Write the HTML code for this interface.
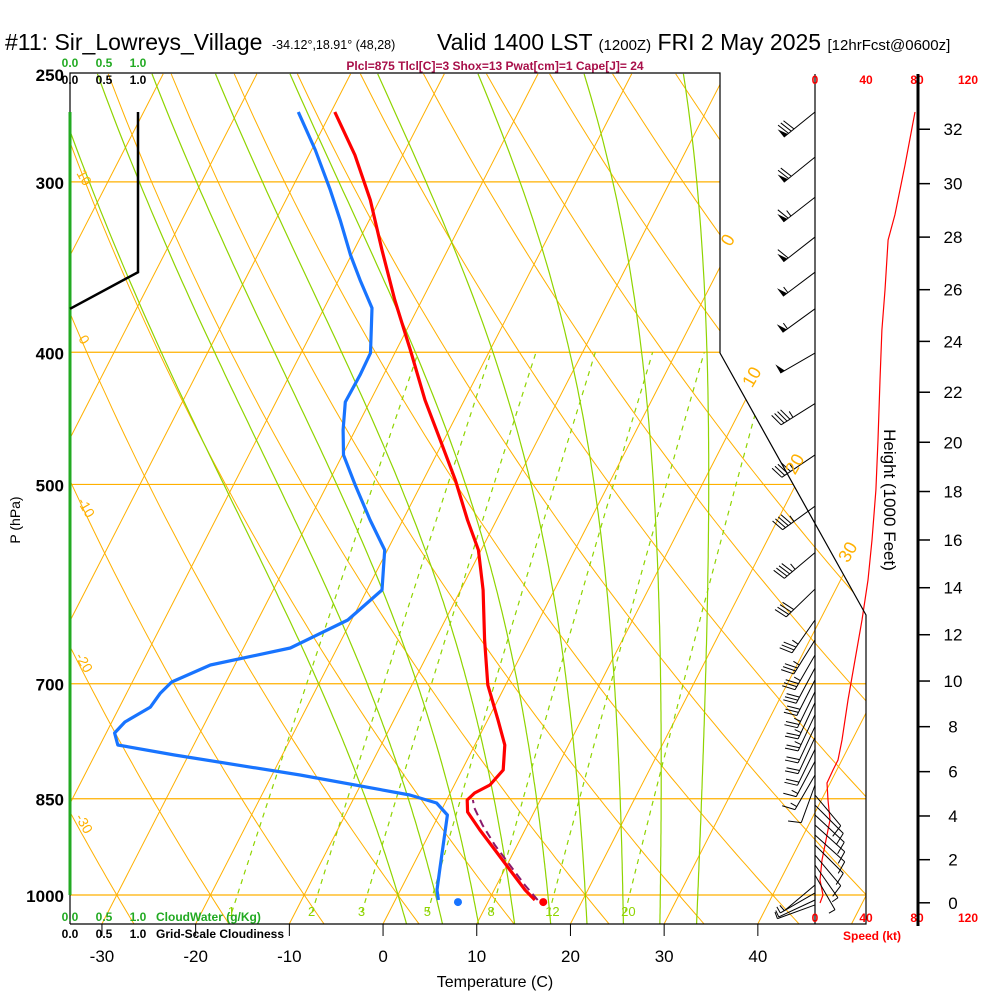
<!DOCTYPE html>
<html><head><meta charset="utf-8">
<style>
html,body{margin:0;padding:0;background:#fff;width:1000px;height:1000px;overflow:hidden}
svg{display:block;font-family:"Liberation Sans",sans-serif}
</style></head>
<body>
<svg id="chart" width="1000" height="1000" viewBox="0 0 1000 1000" xmlns="http://www.w3.org/2000/svg">
<defs>
<clipPath id="plotclip"><polygon points="70,73 720,73 720,353 866,615 866,924 70,924"/></clipPath>
</defs>
<g>
<text x="5" y="50" font-size="23">#11: Sir_Lowreys_Village</text>
<text x="272" y="49" font-size="12.5">-34.12°,18.91° (48,28)</text>
<text x="437" y="50" font-size="23">Valid 1400 LST <tspan font-size="15">(1200Z)</tspan> FRI 2 May 2025 <tspan font-size="15">[12hrFcst@0600z]</tspan></text>
<text x="495" y="70" font-size="12" font-weight="bold" fill="#a8104a" text-anchor="middle">Plcl=875 Tlcl[C]=3 Shox=13 Pwat[cm]=1 Cape[J]= 24</text>
</g>
<g id="grid" clip-path="url(#plotclip)"></g>
<g id="marks"></g>
<g id="axes"></g>
</svg>
<script>
// ---- data ----
const tempP = [266.6,286.7,309.3,336.6,366.2,398.5,433.6,463.8,496.2,530.9,558.5,597.5,650.2,701.4,744.1,776.3,809.8,830.5,841.8,851.8,869.2,896.1,926.8,958.7,991.6,1008.5];
const tempT = [-49.6,-45.1,-41.0,-37.0,-32.9,-28.5,-24.2,-20.4,-16.6,-13.1,-10.3,-7.6,-4.7,-1.9,1.1,3.2,4.4,3.8,2.6,2.2,2.9,5.2,7.9,10.6,13.3,14.9];
const dewP = [266.6,284.3,304.2,320.0,339.4,354.1,371.2,400.5,415.6,435.0,456.1,475.7,500.5,530.9,558.5,597.5,628.6,659.0,678.2,698.0,711.1,728.1,746.7,760.7,776.3,789.5,816.6,844.7,856.2,873.6,926.8,958.7,991.6,1008.5];
const dewT = [-53.5,-49.6,-45.8,-43.1,-40.1,-37.7,-34.9,-32.6,-32.5,-32.6,-31.3,-29.9,-27.0,-23.5,-20.3,-18.4,-20.4,-25.0,-32.6,-35.8,-36.4,-36.7,-38.6,-39.1,-38.1,-31.5,-17.0,-4.2,-0.9,0.9,2.3,3.1,3.9,4.6];
const parcelP = [1008.5,983.3,950.6,919.0,888.5,863.4,851.8];
const parcelT = [14.7,12.5,9.8,7.1,4.7,2.9,2.3];
const sfcP = 1012; const sfcT = 15.9; const sfcTd = 6.8;
const speedP = [266.6,291.6,317.2,330.9,360.1,385.2,419.2,463.8,504.7,549.2,587.5,628.6,672.5,719.5,769.7,796.2,809.8,827.7,851.8,881.1,911.3,942.6,975.0,1000,1013.6];
const speedV = [78.4,70.6,62.7,57.3,54.9,52.5,51.0,49.4,47.8,44.7,41.6,36.9,31.4,25.9,21.2,18.0,14.1,9.4,10.2,11.8,8.6,5.5,3.9,6.3,3.9];
const barbP = [266.6,287.7,307.9,329.3,349.4,371.7,400.5,436.2,475.7,518.7,561.0,596.6,628.6,650.2,666.9,681.6,695.4,709.5,722.7,737.5,752.5,766.4,782.0,798.0,816.6,830.5,844.7,859.2,873.6,888.5,903.6,919.0,934.8,950.6,966.9,983.3,996.6,1008.5,1016.9];
const barbDir = [231,231,232,232,233,234,240,238,236,234,230,226,215,212,210,208,207,206,205,205,205,205,206,208,210,200,140,135,133,132,132,135,140,145,150,230,240,245,250];
const barbSpd = [78,72,65,58,56,54,52,47,46,45,44,41,37,35,33,31,29,27,26,24,22,21,19,17,14,10,10,11,12,12,11,10,8,6,5,4,5,6,5];
const cloudP = [266.6,349.4,371.7];
const cloudV = [1.0,1.0,0.0];
const pressLabels = [250,300,400,500,700,850,1000];
const isobars = [300,400,500,700,850,1000];
const tempTicks = [-30,-20,-10,0,10,20,30,40];
const heightTicks = [0,2,4,6,8,10,12,14,16,18,20,22,24,26,28,30,32];
const mixRatios = [1,2,3,5,8,12,20];
const moistStarts = [0,4,8,12,16,20,24,28,32];
const speedTicks = [0,40,80,120];

// ---- axis functions ----
const Y = p => 895 - 592.3*Math.log(1000/p);
const X = (T,p) => 383 + 9.37*T + 0.513*(924 - Y(p));
const SX = s => 815 + s*1.275;
const CX = v => 70 + v*68;
const HY = h => Y(1013.25*Math.pow(1-6.8756e-6*h*1000,5.2559));
const NS='http://www.w3.org/2000/svg';
function mk(parent,tag,attrs,text){const e=document.createElementNS(NS,tag);for(const k in attrs)e.setAttribute(k,attrs[k]);if(text!==undefined)e.textContent=text;parent.appendChild(e);return e;}
const grid=document.getElementById('grid'), marks=document.getElementById('marks'), axes=document.getElementById('axes');
function pathFrom(pts){return 'M'+pts.map(q=>q[0].toFixed(1)+','+q[1].toFixed(1)).join('L');}

isobars.forEach(p=>{const l=mk(grid,'line',{x1:70,x2:870,y1:Y(p),y2:Y(p),stroke:'#ffb000','stroke-width':1.2});

});
for(let T=-120;T<=50;T+=10){const l=mk(grid,'line',{x1:X(T,1050),y1:Y(1050),x2:X(T,250),y2:Y(250),stroke:'#ffb000','stroke-width':1});

}
for(let th=-40;th<=170;th+=10){const pts=[];for(let p=1050;p>=245;p-=10){const T=(th+273.15)*Math.pow(p/1000,0.2857)-273.15;pts.push([X(T,p),Y(p)]);}
const e=mk(grid,'path',{d:pathFrom(pts),fill:'none',stroke:'#ffb000','stroke-width':1});

}
function es(Tc){return 6.112*Math.exp(17.67*Tc/(Tc+243.5));}
function grad(T,p){const e=es(T-273.15);const rs=0.622*e/(p-e);const Lv=2.5e6;return (287*T+Lv*rs)/(p*(1005+Lv*Lv*rs*0.622/(287*T*T)));}
function moist(T0){const out=[];let T=T0+273.15;
 let Td=T;for(let p=1000;p<1050;p+=5){Td+=5*grad(Td,p);}
 let Tc=Td;for(let p=1050;p>=250;p-=5){out.push([X(Tc-273.15,p),Y(p)]);Tc-=5*grad(Tc,p);}
 return out;}
moistStarts.forEach(t=>{const e=mk(grid,'path',{d:pathFrom(moist(t)),fill:'none',stroke:'#8fd400','stroke-width':1.2});

});
mixRatios.forEach(w=>{const pts=[];for(let p=1030;p>=400;p-=10){const e=w*p/(622+w);const l=Math.log(e/6.112);const Td=243.5*l/(17.67-l);pts.push([X(Td,p),Y(p)]);}
const e=mk(grid,'path',{d:pathFrom(pts),fill:'none',stroke:'#8fd400','stroke-width':1.2,'stroke-dasharray':'5,5'});


const p0=1030,ee=w*p0/(622+w),ll=Math.log(ee/6.112),tt=243.5*ll/(17.67-ll);
const t=mk(grid,'text',{x:X(tt,p0)-4,y:916,'font-size':13,fill:'#8fd400'},String(w));

});

[[0,733,243],[10,757,380],[20,800,467],[30,853,555]].forEach(a=>{const t=mk(axes,'text',{x:a[1],y:a[2],'font-size':18,fill:'#ffb000','text-anchor':'middle',transform:`rotate(-60 ${a[1]} ${a[2]})`},String(a[0]));

});
[[10,80,180],[0,80,342],[-10,82,510],[-20,80,665],[-30,80,826]].forEach(a=>{const t=mk(axes,'text',{x:a[1],y:a[2],'font-size':14,fill:'#ffb000','text-anchor':'middle',transform:`rotate(60 ${a[1]} ${a[2]})`},String(a[0]));

});

const b=mk(axes,'polyline',{points:'70,924 70,73 720,73 720,353 866,615 866,924 70,924',fill:'none',stroke:'#000','stroke-width':1.2});



const cw=mk(axes,'line',{x1:CX(0),x2:CX(0),y1:Y(266.6),y2:Y(1000),stroke:'#22aa22','stroke-width':3});


const cl=mk(axes,'path',{d:pathFrom(cloudP.map((p,i)=>[CX(cloudV[i]),Y(p)])),fill:'none',stroke:'#000','stroke-width':2.5});



const tp=mk(marks,'path',{d:pathFrom(tempP.map((p,i)=>[X(tempT[i],p),Y(p)])),fill:'none',stroke:'#ff0000','stroke-width':3.2,'stroke-linejoin':'round'});


const dp=mk(marks,'path',{d:pathFrom(dewP.map((p,i)=>[X(dewT[i],p),Y(p)])),fill:'none',stroke:'#1874ff','stroke-width':3.2,'stroke-linejoin':'round'});


const pp=mk(marks,'path',{d:pathFrom(parcelP.map((p,i)=>[X(parcelT[i]+0.5,p),Y(p)])),fill:'none',stroke:'#8b1a6b','stroke-width':2,'stroke-dasharray':'8,5'});


const st=mk(marks,'circle',{cx:X(sfcT,sfcP),cy:Y(sfcP),r:4,fill:'#ff0000'});


const sd=mk(marks,'circle',{cx:X(sfcTd,sfcP),cy:Y(sfcP),r:4,fill:'#1874ff'});



const wl=mk(axes,'line',{x1:815,x2:815,y1:74,y2:924,stroke:'#000','stroke-width':1.2});


const sp=mk(marks,'path',{d:pathFrom(speedP.map((p,i)=>[SX(speedV[i]),Y(p)])),fill:'none',stroke:'#ff0000','stroke-width':1.2});


barbP.forEach((p,i)=>{const g=mk(marks,'g',{});


const a=barbDir[i]*Math.PI/180,L=40,x0=815,y0=Y(p);const ux=Math.sin(a),uy=-Math.cos(a);
const x1=x0+L*ux,y1=y0+L*uy;mk(g,'line',{x1:x0,y1:y0,x2:x1,y2:y1,stroke:'#000','stroke-width':1});
const px=-uy,py=ux;let s=Math.round(barbSpd[i]/5)*5,d=0;
while(s>=50){const bx=x1-ux*d,by=y1-uy*d;mk(g,'polygon',{points:`${bx},${by} ${bx+px*10},${by+py*10} ${bx-ux*5},${by-uy*5}`,fill:'#000'});d+=6;s-=50;}
while(s>=10){const bx=x1-ux*d,by=y1-uy*d;mk(g,'line',{x1:bx,y1:by,x2:bx+px*13+ux*3,y2:by+py*13+uy*3,stroke:'#000','stroke-width':1});d+=3.5;s-=10;}
if(s>=5){const bx=x1-ux*d,by=y1-uy*d;mk(g,'line',{x1:bx,y1:by,x2:bx+px*7,y2:by+py*7,stroke:'#000','stroke-width':1});}
});
speedTicks.forEach(s=>{[84,922].forEach(yy=>{const t=mk(axes,'text',{x:SX(s),y:yy,'font-size':12,'font-weight':'bold',fill:'#ff0000','text-anchor':'middle'},String(s));

});});
const skl=mk(axes,'text',{x:872,y:940,'font-size':12,'font-weight':'bold',fill:'#ff0000','text-anchor':'middle'},'Speed (kt)');



const ha=mk(axes,'line',{x1:918,x2:918,y1:74,y2:926,stroke:'#000','stroke-width':3});


heightTicks.forEach(h=>{const y=HY(h);mk(axes,'line',{x1:918,x2:930,y1:y,y2:y,stroke:'#000','stroke-width':1.5});
const t=mk(axes,'text',{x:953,y:y+6,'font-size':17,'text-anchor':'middle'},String(h));

});
const ht=mk(axes,'text',{x:884,y:500,'font-size':17,'text-anchor':'middle',transform:'rotate(90 884 500)'},'Height (1000 Feet)');



pressLabels.forEach(p=>{const t=mk(axes,'text',{x:64,y:Y(p)+7,'font-size':17,'font-weight':'bold','text-anchor':'end'},String(p));

});
const pt=mk(axes,'text',{x:20,y:520,'font-size':14,'text-anchor':'middle',transform:'rotate(-90 20 520)'},'P (hPa)');



tempTicks.forEach(T=>{const x=X(T,1050);mk(axes,'line',{x1:x,x2:x,y1:924,y2:936,stroke:'#000','stroke-width':1});
const t=mk(axes,'text',{x:x,y:962,'font-size':17,'text-anchor':'middle'},String(T));

});
const tt=mk(axes,'text',{x:495,y:987,'font-size':16,'text-anchor':'middle'},'Temperature (C)');



[[67,'#22aa22',''],[84,'#000',''],[921,'#22aa22','CloudWater (g/Kg)'],[938,'#000','Grid-Scale Cloudiness']].forEach(q=>{
[0,0.5,1].forEach(v=>{const t=mk(axes,'text',{x:CX(v),y:q[0],'font-size':12,'font-weight':'bold',fill:q[1],'text-anchor':'middle'},v.toFixed(1));

});
if(q[2]){const t=mk(axes,'text',{x:156,y:q[0],'font-size':12,'font-weight':'bold',fill:q[1]},q[2]);

}});
</script>
</body></html>
